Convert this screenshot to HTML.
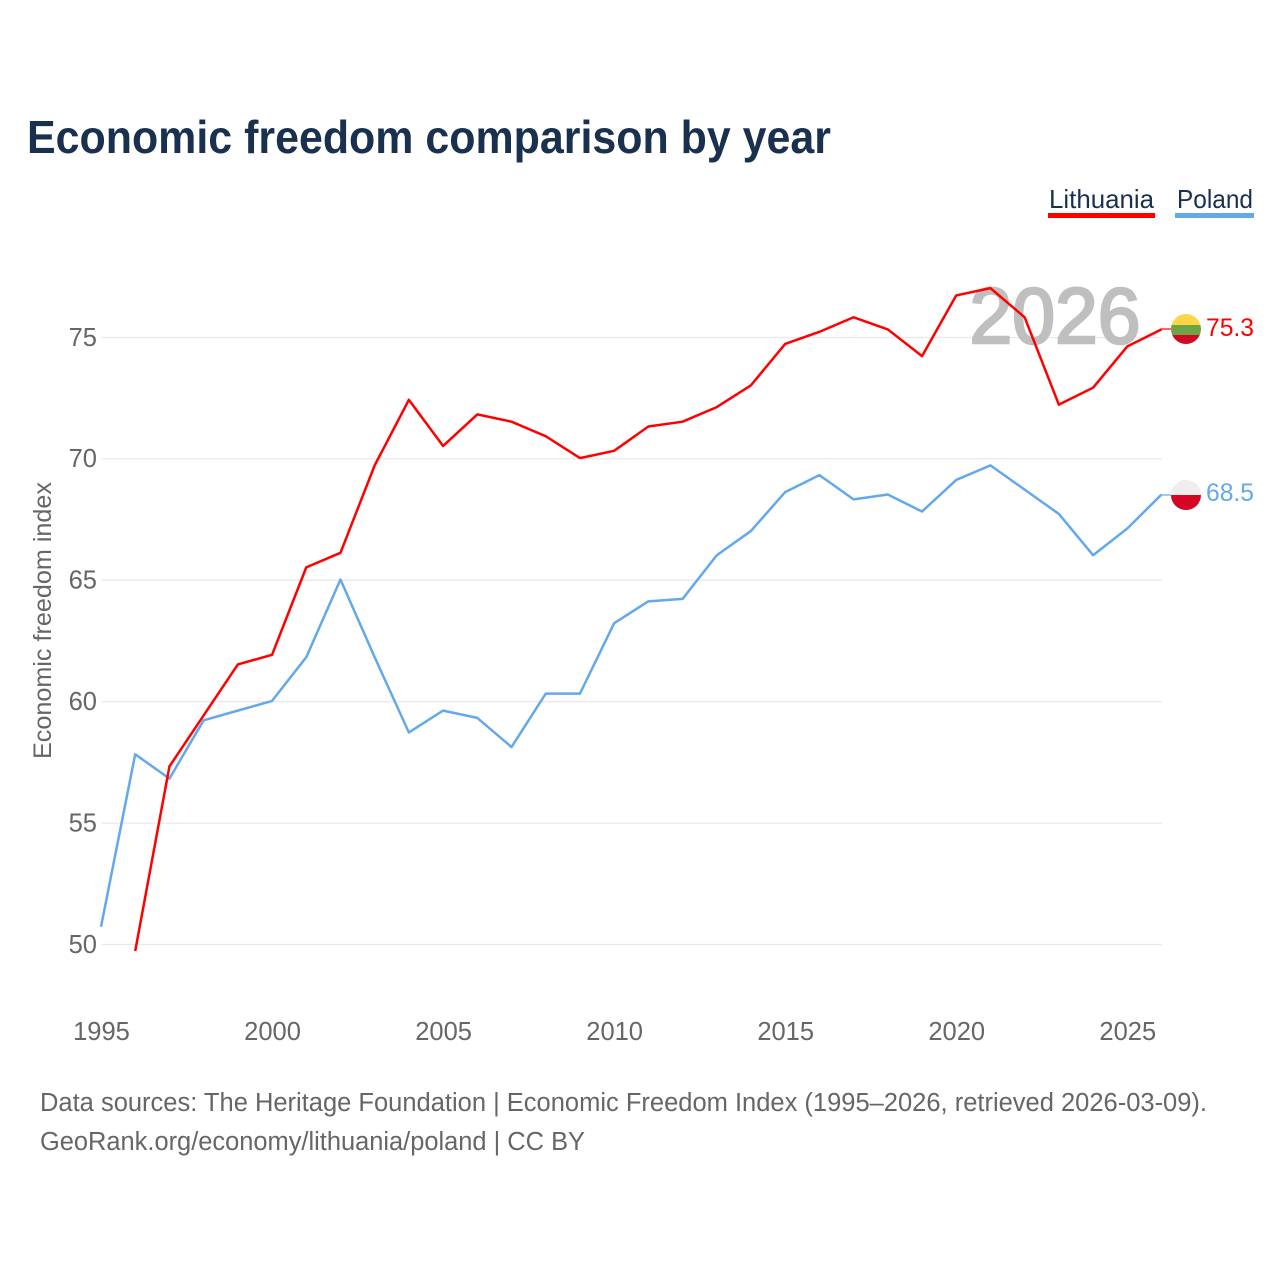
<!DOCTYPE html>
<html lang="en">
<head>
<meta charset="utf-8">
<title>Economic freedom comparison by year</title>
<style>
html,body{margin:0;padding:0;background:#fff}
svg{display:block}
text{font-family:"Liberation Sans",sans-serif}
</style>
</head>
<body>
<svg id="chart" xmlns="http://www.w3.org/2000/svg" width="1280" height="1280" viewBox="0 0 1280 1280">
  <rect width="1280" height="1280" fill="#fff"/>
  <text x="27" y="153" font-size="46" font-weight="700" fill="#19304f" textLength="804" lengthAdjust="spacingAndGlyphs">Economic freedom comparison by year</text>
  <g id="grid"></g>
  <text x="1055" y="343" font-size="79" font-weight="400" fill="#bfbfbf" stroke="#bfbfbf" stroke-width="2.6" text-anchor="middle" textLength="171" lengthAdjust="spacingAndGlyphs">2026</text>
  <g id="series" transform="translate(-0.5,-0.8)"></g>
  <g id="yticks"></g>
  <g id="xticks"></g>
  <text transform="translate(51,620.5) rotate(-90)" font-size="25" fill="#666" text-anchor="middle" textLength="277" lengthAdjust="spacingAndGlyphs">Economic freedom index</text>

  <g>
    <text x="1049" y="208" font-size="26" fill="#19304f" textLength="105" lengthAdjust="spacingAndGlyphs">Lithuania</text>
    <rect x="1048" y="213" width="107" height="5" fill="#ff0000"/>
  </g>
  <g>
    <text x="1177" y="208" font-size="26" fill="#19304f" textLength="76" lengthAdjust="spacingAndGlyphs">Poland</text>
    <rect x="1175" y="213" width="79" height="5" fill="#64a8ec"/>
  </g>

  <defs>
    <clipPath id="flag-clip-lt"><circle cx="1186" cy="329" r="15"/></clipPath>
    <clipPath id="flag-clip-pl"><circle cx="1186" cy="495" r="15"/></clipPath>
  </defs>
  <line x1="1161" y1="329" x2="1171" y2="329" stroke="#ff0000" stroke-width="1.2"/>
  <line x1="1161" y1="495" x2="1171" y2="495" stroke="#64a8ec" stroke-width="1.2"/>
  <g clip-path="url(#flag-clip-lt)">
    <rect x="1171" y="314" width="30" height="11" fill="#fdd648"/>
    <rect x="1171" y="325" width="30" height="10" fill="#6ea544"/>
    <rect x="1171" y="335" width="30" height="9" fill="#d00a25"/>
  </g>
  <g clip-path="url(#flag-clip-pl)">
    <rect x="1171" y="480" width="30" height="15" fill="#eeeeee"/>
    <rect x="1171" y="495" width="30" height="15" fill="#d40424"/>
  </g>
  <text x="1206" y="336" font-size="25" fill="#ff0000" textLength="48" lengthAdjust="spacingAndGlyphs">75.3</text>
  <text x="1206" y="501" font-size="25" fill="#64a8ec" textLength="48" lengthAdjust="spacingAndGlyphs">68.5</text>

  <text x="40" y="1111" font-size="25.5" fill="#666" textLength="1167" lengthAdjust="spacingAndGlyphs">Data sources: The Heritage Foundation | Economic Freedom Index (1995–2026, retrieved 2026-03-09).</text>
  <text x="40" y="1150" font-size="25.5" fill="#666" textLength="545" lengthAdjust="spacingAndGlyphs">GeoRank.org/economy/lithuania/poland | CC BY</text>
</svg>
<script>
const years = [1995,1996,1997,1998,1999,2000,2001,2002,2003,2004,2005,2006,2007,2008,2009,2010,2011,2012,2013,2014,2015,2016,2017,2018,2019,2020,2021,2022,2023,2024,2025,2026];
const lithuaniaValues = [null,49.7,57.3,59.4,61.5,61.9,65.5,66.1,69.7,72.4,70.5,71.8,71.5,70.9,70.0,70.3,71.3,71.5,72.1,73.0,74.7,75.2,75.8,75.3,74.2,76.7,77.0,75.8,72.2,72.9,74.6,75.3];
const polandValues = [50.7,57.8,56.8,59.2,59.6,60.0,61.8,65.0,61.8,58.7,59.6,59.3,58.1,60.3,60.3,63.2,64.1,64.2,66.0,67.0,68.6,69.3,68.3,68.5,67.8,69.1,69.7,68.7,67.7,66.0,67.1,68.5];
const yTickValues = [50,55,60,65,70,75];
const xTickValues = [1995,2000,2005,2010,2015,2020,2025];

const SVG_NS = 'http://www.w3.org/2000/svg';
function xScale(year){ return 101.5 + (year - 1995) * (1162 - 101.5) / 31; }
function yScale(value){ return 944.5 - (value - 50) * (944.5 - 337.5) / 25; }

const gridGroup = document.getElementById('grid');
const yGroup = document.getElementById('yticks');
const xGroup = document.getElementById('xticks');
const seriesGroup = document.getElementById('series');

yTickValues.forEach(function(v){
  const line = document.createElementNS(SVG_NS, 'line');
  
  
  line.setAttribute('x1', xScale(1995));
  line.setAttribute('x2', xScale(2026));
  line.setAttribute('y1', yScale(v));
  line.setAttribute('y2', yScale(v));
  line.setAttribute('stroke', '#e9e9e9');
  line.setAttribute('stroke-width', '1.3');
  gridGroup.appendChild(line);

  const label = document.createElementNS(SVG_NS, 'text');
  
  
  label.setAttribute('x', 97);
  label.setAttribute('y', yScale(v) + 8.3);
  label.setAttribute('font-size', '25.5');
  label.setAttribute('fill', '#666');
  label.setAttribute('text-anchor', 'end');
  label.textContent = v;
  yGroup.appendChild(label);
});

xTickValues.forEach(function(year){
  const label = document.createElementNS(SVG_NS, 'text');
  
  
  label.setAttribute('x', xScale(year));
  label.setAttribute('y', 1040);
  label.setAttribute('font-size', '25.5');
  label.setAttribute('fill', '#666');
  label.setAttribute('text-anchor', 'middle');
  label.textContent = year;
  xGroup.appendChild(label);
});

function linePoints(values){
  const pts = [];
  values.forEach(function(v, i){
    if (v !== null) pts.push(xScale(years[i]).toFixed(2) + ',' + yScale(v).toFixed(2));
  });
  return pts.join(' ');
}

const polandLine = document.createElementNS(SVG_NS, 'polyline');


polandLine.setAttribute('points', linePoints(polandValues));
polandLine.setAttribute('fill', 'none');
polandLine.setAttribute('stroke', '#64a8ec');
polandLine.setAttribute('stroke-width', '2.5');
polandLine.setAttribute('stroke-linejoin', 'round');
seriesGroup.appendChild(polandLine);

const lithuaniaLine = document.createElementNS(SVG_NS, 'polyline');


lithuaniaLine.setAttribute('points', linePoints(lithuaniaValues));
lithuaniaLine.setAttribute('fill', 'none');
lithuaniaLine.setAttribute('stroke', '#ff0000');
lithuaniaLine.setAttribute('stroke-width', '2.5');
lithuaniaLine.setAttribute('stroke-linejoin', 'round');
seriesGroup.appendChild(lithuaniaLine);
</script>
</body>
</html>
